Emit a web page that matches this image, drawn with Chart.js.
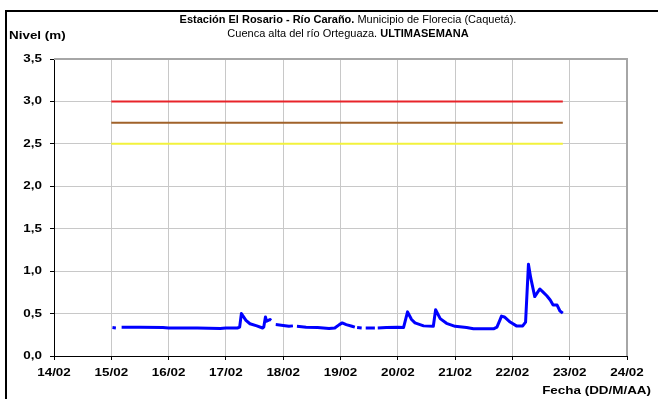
<!DOCTYPE html>
<html>
<head>
<meta charset="utf-8">
<script src="https://cdn.jsdelivr.net/npm/chart.js@4.4.1/dist/chart.umd.min.js"></script>
<style>
  html, body { margin: 0; padding: 0; background: #fff; }
  #wrap { width: 658px; height: 399px; position: relative; }
</style>
</head>
<body>
<div id="wrap"><canvas id="c" width="658" height="399"></canvas></div>
<script>
// Axis ticks (days of February) and their labels
const dayTicks = [14, 15, 16, 17, 18, 19, 20, 21, 22, 23, 24];
const dayLabels = ['14/02', '15/02', '16/02', '17/02', '18/02', '19/02', '20/02', '21/02', '22/02', '23/02', '24/02'];
const levelTicks = [0, 0.5, 1.0, 1.5, 2.0, 2.5, 3.0, 3.5];

// Water level readings: time in days of February, level in metres (null = missing reading)
const timeDays = [
  15.02, 15.08, 15.13, 15.18, 15.5, 15.9, 16.0, 16.5, 16.9, 17.0, 17.2, 17.24,
  17.27, 17.30, 17.35, 17.42, 17.54, 17.64, 17.66, 17.69, 17.71, 17.74, 17.77, 17.79,
  17.83, 17.87, 18.0, 18.1, 18.17, 18.2, 18.24, 18.4, 18.6, 18.8, 18.9, 18.98,
  19.03, 19.1, 19.2, 19.25, 19.27, 19.29, 19.37, 19.40, 19.44, 19.60, 19.62, 19.65,
  19.8, 20.0, 20.1, 20.17, 20.24, 20.3, 20.45, 20.62, 20.66, 20.74, 20.85, 21.0,
  21.2, 21.32, 21.67, 21.73, 21.78, 21.81, 21.86, 21.96, 22.07, 22.18, 22.23, 22.28,
  22.32, 22.39, 22.43, 22.48, 22.54, 22.6, 22.66, 22.71, 22.78, 22.83, 22.88
];
const levelM = [
  0.335, 0.33, null, 0.34, 0.34, 0.335, 0.33, 0.33, 0.325, 0.33, 0.33, 0.34,
  0.50, 0.47, 0.42, 0.38, 0.355, 0.33, 0.34, 0.46, 0.41, 0.42, 0.43, 0.42,
  null, 0.37, 0.36, 0.35, 0.355, null, 0.35, 0.34, 0.335, 0.325, 0.33, 0.37,
  0.39, 0.37, 0.35, 0.34, null, 0.335, 0.33, null, 0.33, 0.33, null, 0.33,
  0.335, 0.34, 0.335, 0.52, 0.43, 0.39, 0.355, 0.35, 0.545, 0.44, 0.385, 0.35,
  0.335, 0.32, 0.32, 0.34, 0.42, 0.47, 0.46, 0.40, 0.355, 0.355, 0.40, 1.08,
  0.92, 0.70, 0.74, 0.79, 0.75, 0.71, 0.66, 0.60, 0.60, 0.53, 0.505
];

// Alert thresholds (m) drawn across the measured period
const alertLevels = [3.0, 2.75, 2.5];
const alertColors = ['#e8242a', '#a0622a', '#f2f23c'];
const alertStart = 15.0;
const alertEnd = 22.88;

const FONT = "'Liberation Sans', Arial, sans-serif";
const TEXT_STRETCH = 1.22; // axis labels are set in a widened face

const levelPoints = timeDays.map((t, i) => ({ x: t, y: levelM[i] }));
const alertDatasets = alertLevels.map((lv, i) => ({
  data: [{ x: alertStart, y: lv }, { x: alertEnd, y: lv }],
  borderColor: alertColors[i],
  borderWidth: 2,
  pointRadius: 0,
  fill: false
}));

// draw text widened horizontally; align: 'left' | 'center' | 'right'
function wideText(ctx, text, x, y, align, bold, size) {
  ctx.save();
  ctx.font = (bold ? 'bold ' : '') + size + 'px ' + FONT;
  ctx.textBaseline = 'middle';
  ctx.textAlign = 'left';
  const w = ctx.measureText(text).width * TEXT_STRETCH;
  let x0 = x;
  if (align === 'center') x0 = x - w / 2;
  else if (align === 'right') x0 = x - w;
  ctx.translate(x0, y);
  ctx.scale(TEXT_STRETCH, 1);
  ctx.fillText(text, 0, 0);
  ctx.restore();
  return w;
}

// Frame, titles, tick labels and axis captions drawn on the canvas
const decorations = {
  id: 'decorations',
  beforeDraw(chart) {
    const ctx = chart.ctx;
    ctx.save();
    ctx.fillStyle = '#fff';
    ctx.fillRect(0, 0, chart.width, chart.height);
    ctx.restore();
  },
  afterDraw(chart) {
    const ctx = chart.ctx;
    const a = chart.chartArea;
    const xs = chart.scales.x;
    const ys = chart.scales.y;
    ctx.save();
    // plot area top/right edge
    ctx.strokeStyle = '#a6a6a6';
    ctx.lineWidth = 2;
    ctx.beginPath();
    ctx.moveTo(a.left, a.top);
    ctx.lineTo(a.right, a.top);
    ctx.lineTo(a.right, a.bottom);
    ctx.stroke();
    // outer frame
    ctx.strokeStyle = '#000';
    ctx.lineWidth = 2;
    ctx.beginPath();
    ctx.moveTo(6, chart.height + 2);
    ctx.lineTo(6, 11);
    ctx.lineTo(chart.width + 2, 11);
    ctx.stroke();
    ctx.fillStyle = '#000';

    // tick labels positioned by the chart scales
    xs.ticks.forEach(t => {
      const i = dayTicks.indexOf(t.value);
      if (i >= 0) wideText(ctx, dayLabels[i], xs.getPixelForValue(t.value), 372.5, 'center', true, 11);
    });
    ys.ticks.forEach(t => {
      wideText(ctx, t.value.toFixed(1).replace('.', ','), 42, ys.getPixelForValue(t.value), 'right', true, 11);
    });

    // title: bold and regular runs centred together
    const drawMixed = (parts, cx, y) => {
      let total = 0;
      parts.forEach(p => { ctx.font = (p.bold ? 'bold ' : '') + '11px ' + FONT; p.w = ctx.measureText(p.t).width; total += p.w; });
      let x = cx - total / 2;
      ctx.textAlign = 'left';
      ctx.textBaseline = 'middle';
      parts.forEach(p => { ctx.font = (p.bold ? 'bold ' : '') + '11px ' + FONT; ctx.fillText(p.t, x, y); x += p.w; });
    };
    drawMixed([{ t: 'Estación El Rosario - Río Caraño.', bold: true }, { t: ' Municipio de Florecia (Caquetá).', bold: false }], 348, 20);
    drawMixed([{ t: 'Cuenca alta del río Orteguaza. ', bold: false }, { t: 'ULTIMASEMANA', bold: true }], 348, 34);

    wideText(ctx, 'Nivel (m)', 9, 36, 'left', true, 11);
    wideText(ctx, 'Fecha (DD/M/AA)', 651, 390.5, 'right', true, 11);
    ctx.restore();
  }
};

new Chart(document.getElementById('c'), {
  type: 'line',
  data: {
    datasets: [
      ...alertDatasets,
      {
        data: levelPoints,
        borderColor: '#0000ff',
        borderWidth: 3,
        borderJoinStyle: 'round',
        borderCapStyle: 'butt',
        pointRadius: 0,
        spanGaps: false,
        tension: 0,
        fill: false
      }
    ]
  },
  options: {
    responsive: false,
    animation: false,
    events: [],
    layout: { padding: { left: 0, top: 59, right: 31, bottom: 0 } },
    plugins: { legend: { display: false }, tooltip: { enabled: false }, title: { display: false } },
    scales: {
      x: {
        type: 'linear',
        min: 14,
        max: 24,
        afterBuildTicks(scale) { scale.ticks = dayTicks.map(v => ({ value: v })); },
        afterFit(scale) { scale.height = 43; },
        ticks: { display: false, autoSkip: false, maxRotation: 0 },
        grid: { color: '#c8c8c8', lineWidth: 1, tickLength: 4, tickColor: '#000' },
        border: { color: '#000', width: 1 }
      },
      y: {
        min: 0,
        max: 3.5,
        afterBuildTicks(scale) { scale.ticks = levelTicks.map(v => ({ value: v })); },
        afterFit(scale) { scale.width = 54; },
        ticks: { display: false },
        grid: { color: '#c8c8c8', lineWidth: 1, tickLength: 4, tickColor: '#000' },
        border: { color: '#000', width: 1 }
      }
    }
  },
  plugins: [decorations]
});
</script>
</body>
</html>
